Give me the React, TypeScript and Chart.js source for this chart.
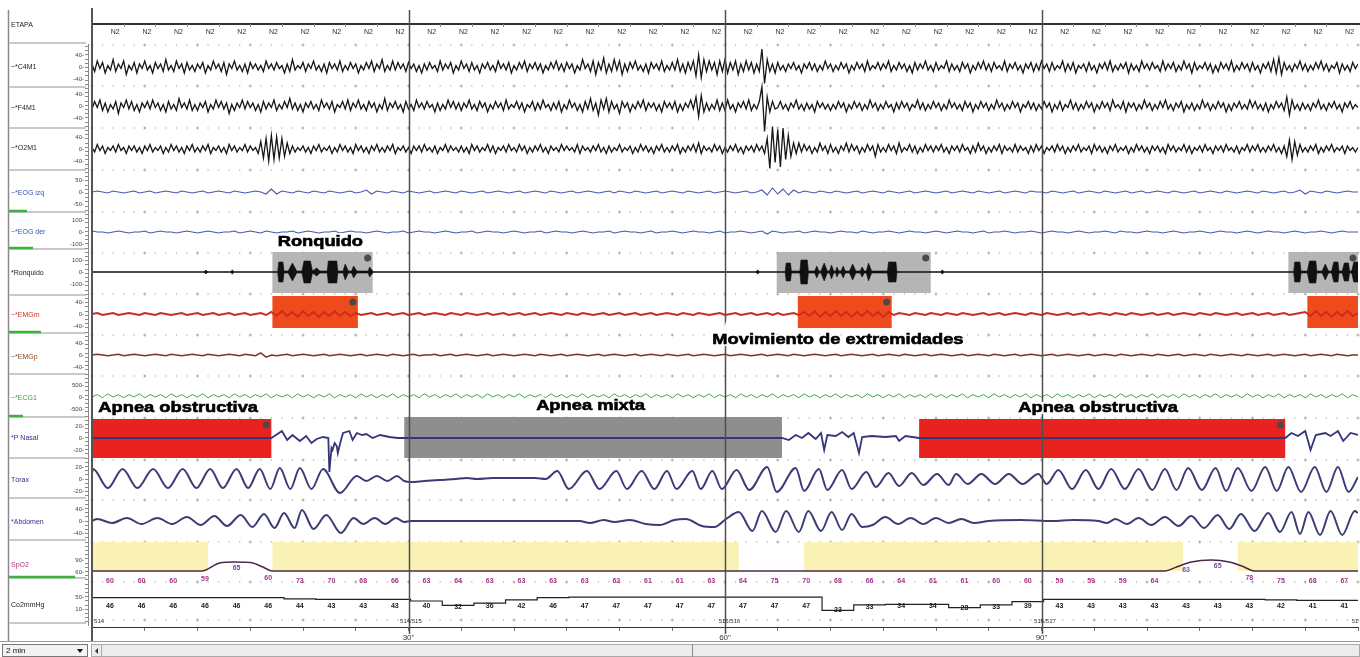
import React, { useEffect, useRef } from "react";
import { Chart, registerables } from "chart.js";

Chart.register(...registerables);

const FONT = '"Liberation Sans", Arial, sans-serif';
const WIDTH = 1360;
const HEIGHT = 657;
const PLOT_LEFT = 92;
const AXIS_HEIGHT = 30;

// ---------------- time axis ----------------
const timeMarks = [30, 60, 90];
const epochNames = ["514", "514/515", "515/516", "516/517", "51"];
const epochNameTimes = [0.2, 29.2, 59.4, 89.3, 119.4];

// ---------------- sleep stage (one label per 3 s) ----------------
const stageLabels = [
  "N2", "N2", "N2", "N2", "N2", "N2", "N2", "N2", "N2", "N2",
  "N2", "N2", "N2", "N2", "N2", "N2", "N2", "N2", "N2", "N2",
  "N2", "N2", "N2", "N2", "N2", "N2", "N2", "N2", "N2", "N2",
  "N2", "N2", "N2", "N2", "N2", "N2", "N2", "N2", "N2", "N2",
];
const stageStart = 2.2;
const stageStep = 3;

// ---------------- numeric read-outs (one per 3 s) ----------------
const readoutStart = 1.7;
const readoutStep = 3;
const spo2Values = [
  60, 60, 60, 59, 65, 60, 73, 70, 68, 66,
  63, 64, 63, 63, 63, 63, 62, 61, 61, 63,
  64, 75, 70, 68, 66, 64, 61, 61, 60, 60,
  59, 59, 59, 64, 63, 65, 78, 75, 68, 67,
];
const co2Values = [
  46, 46, 46, 46, 46, 46, 44, 43, 43, 43,
  40, 32, 36, 42, 46, 47, 47, 47, 47, 47,
  47, 47, 47, 23, 33, 34, 34, 28, 33, 39,
  43, 43, 43, 43, 43, 43, 43, 42, 41, 41,
];

// ---------------- scored events [start s, end s] ----------------
const snoreEvents = [[17.1, 26.6], [64.9, 79.5], [113.4, 120]];
const limbEvents = [[17.1, 25.2], [66.9, 75.8], [115.2, 120]];
const obstructiveApneas = [[0, 17.0], [78.4, 113.1]];
const mixedApneas = [[29.6, 65.4]];
const spo2Bands = [[0, 11.0], [17.1, 61.3], [67.5, 103.4], [108.6, 120]];

const annotationTexts = ["Ronquido", "Movimiento de extremidades", "Apnea obstructiva", "Apnea mixta", "Apnea obstructiva"];
const annotationTimes = [17.6, 58.8, 0.6, 42.1, 87.8];

// ---------------- EEG (0.25 s samples) ----------------
const eegStep = 0.25;
const c4m1 = [
  2,-3,4,-1,3,-4,1,-2,5,-3,2,-1,4,-5,1,-2,3,-4,2,-1,
  4,-2,1,-4,3,-1,2,-3,5,-2,1,-3,4,-1,2,-4,3,-2,1,-3,
  2,-1,3,-4,1,-2,4,-1,2,-3,3,-5,2,-1,4,-2,1,-3,2,-4,
  3,-1,2,-2,1,-3,4,-1,2,-2,3,-1,1,-4,2,-3,5,-2,1,-1,
  3,-3,2,-1,4,-2,1,-3,2,-4,3,-1,2,-2,4,-3,1,-2,3,-1,
  2,-4,1,-2,3,-1,4,-3,2,-1,5,-3,1,-2,4,-2,3,-1,2,-3,
  3,-1,2,-3,1,-4,2,-2,3,-1,1,-3,4,-2,2,-1,3,-4,1,-2,
  4,-1,2,-3,3,-2,1,-4,2,-1,3,-2,1,-3,4,-1,2,-2,3,-4,
  1,-2,3,-1,4,-3,2,-1,3,-2,2,-4,1,-2,3,-1,4,-2,2,-3,
  3,-1,2,-4,1,-2,5,-1,2,-3,4,-5,3,-2,6,-4,2,-3,5,-2,
  4,-5,2,-3,3,-1,4,-2,1,-3,2,-4,3,-1,2,-2,4,-3,1,-2,
  3,-2,5,-3,2,-4,3,-2,4,-6,8,-7,5,-3,4,-2,3,-5,4,-3,
  5,-4,3,-2,4,-5,2,-3,4,-2,3,-4,2,-3,12,-11,5,-3,2,-4,
  3,-2,1,-3,2,-1,3,-2,1,-4,2,-1,3,-2,2,-3,1,-2,4,-1,
  2,-3,1,-2,3,-1,2,-4,1,-2,3,-1,2,-3,4,-2,1,-1,3,-2,
  2,-1,4,-3,1,-2,3,-1,2,-3,1,-4,3,-2,2,-1,4,-2,1,-3,
  3,-2,1,-1,4,-3,2,-2,1,-3,3,-1,2,-4,1,-2,3,-1,4,-2,
  2,-3,3,-1,1,-2,4,-3,2,-1,3,-2,1,-4,2,-1,3,-3,2,-2,
  4,-1,2,-3,3,-2,1,-1,4,-3,2,-2,3,-4,1,-1,2,-3,3,-2,
  1,-4,2,-1,3,-2,4,-3,1,-2,2,-1,3,-4,2,-2,1,-3,4,-1,
  2,-2,3,-1,1,-3,4,-2,2,-1,3,-3,1,-2,4,-1,2,-4,3,-2,
  1,-1,3,-2,2,-4,1,-3,3,-1,2,-2,4,-3,1,-2,3,-1,2,-3,
  3,-2,1,-4,2,-1,3,-3,5,-4,6,-5,3,-2,1,-3,2,-1,4,-2,
  2,-3,1,-2,3,-1,4,-2,2,-3,1,-1,3,-4,2,-2,1,-3,3,-1,
  2,
];
const f4m1 = [
  -2,3,-1,4,-3,2,-4,1,-2,3,-5,2,-1,4,-2,3,-3,1,-4,2,
  -1,3,-2,4,-1,2,-3,1,-4,3,-2,1,-3,5,-1,2,-2,4,-3,1,
  -3,2,-1,3,-4,1,-2,4,-1,3,-2,2,-5,1,-3,2,-1,4,-2,3,
  -1,2,-3,1,-4,3,-2,2,-1,4,-3,1,-2,3,-1,5,-2,2,-3,1,
  -4,2,-1,3,-2,1,-3,4,-1,2,-2,3,-4,1,-1,3,-2,4,-3,2,
  -1,4,-2,1,-3,3,-1,2,-4,1,-2,5,-3,2,-1,3,-2,1,-4,3,
  -2,1,-3,4,-1,2,-2,3,-1,1,-4,2,-3,1,-2,4,-1,3,-2,2,
  -3,2,-1,4,-2,1,-3,3,-1,2,-4,1,-2,3,-1,2,-3,4,-2,1,
  -1,3,-2,2,-4,1,-1,3,-3,2,-2,4,-1,1,-3,2,-2,3,-4,1,
  -2,4,-1,2,-3,1,-4,3,-2,5,-3,2,-6,4,-2,5,-4,3,-2,1,
  -5,3,-1,2,-4,1,-2,3,-1,4,-3,2,-1,2,-3,1,-4,3,-1,2,
  -2,3,-4,1,-3,2,-1,4,-2,6,-7,7,-4,2,-3,1,-2,4,-3,2,
  -3,4,-2,1,-4,2,-1,3,-2,4,-3,1,-2,3,13,-17,6,-4,3,-2,
  -1,3,-2,1,-3,2,-1,4,-2,1,-3,2,-2,1,-4,3,-1,2,-2,1,
  -3,1,-2,3,-1,2,-4,1,-2,3,-1,2,-3,1,-2,4,-1,2,-3,1,
  -2,3,-1,1,-4,2,-2,3,-1,2,-3,1,-1,4,-2,2,-3,1,-2,3,
  -1,2,-3,1,-2,4,-1,2,-2,1,-3,3,-1,2,-4,1,-2,3,-1,2,
  -3,1,-2,4,-1,2,-3,1,-2,3,-1,2,-4,1,-1,3,-2,2,-3,1,
  -2,3,-1,2,-4,1,-2,3,-3,1,-1,4,-2,2,-3,1,-2,3,-1,2,
  -4,1,-2,3,-1,2,-3,4,-1,1,-2,3,-4,2,-1,2,-3,1,-2,4,
  -1,2,-3,1,-2,3,-1,4,-2,1,-3,2,-1,3,-4,1,-2,2,-3,1,
  -2,4,-1,2,-3,1,-2,3,-1,2,-4,1,-3,2,-1,3,-2,1,-2,4,
  -1,3,-2,1,-3,2,-4,1,-2,3,-1,2,-3,6,-6,4,-2,1,-3,2,
  -2,1,-3,2,-1,4,-2,1,-3,2,-1,3,-2,1,-4,2,-1,3,-2,1,
  -1,
];
const o2m1 = [
  1,-2,3,-1,2,-3,1,-1,2,-2,3,-1,1,-3,2,-1,2,-2,1,-3,
  2,-1,3,-2,1,-1,2,-3,1,-2,3,-1,2,-2,1,-3,2,-1,3,-2,
  1,-2,2,-1,3,-3,1,-1,2,-2,1,-3,3,-1,2,-2,1,-1,3,-2,
  2,-1,1,-3,5,-6,7,-8,9,-7,8,-6,7,-5,4,-3,2,-2,1,-1,
  2,-2,1,-3,2,-1,3,-2,1,-1,2,-3,1,-2,3,-1,2,-2,1,-3,
  3,-1,2,-2,1,-3,2,-1,3,-2,1,-2,2,-1,3,-3,1,-1,2,-2,
  1,-3,2,-1,2,-2,3,-1,1,-2,2,-3,1,-1,3,-2,2,-1,1,-2,
  2,-2,1,-3,3,-1,2,-2,1,-1,3,-2,2,-3,1,-1,2,-2,3,-1,
  1,-2,3,-1,2,-3,1,-2,2,-1,3,-2,1,-3,2,-1,1,-2,3,-1,
  2,-1,1,-2,3,-3,2,-1,1,-2,2,-1,3,-2,1,-3,2,-2,1,-1,
  3,-2,1,-1,2,-3,1,-2,3,-1,2,-2,1,-3,2,-1,3,-2,1,-2,
  2,-1,3,-3,1,-2,2,-1,3,-2,4,-3,2,-1,1,-2,3,-1,2,-3,
  1,-2,2,-1,3,-2,1,-3,2,-1,2,-2,3,-1,2,-3,7,-13,15,-9,
  13,-12,14,-7,9,-5,4,-3,4,-2,3,-1,2,-3,1,-2,4,-1,2,-3,
  3,-2,1,-3,2,-1,4,-2,3,-1,2,-3,1,-2,3,-1,2,-5,3,-2,
  1,-2,3,-1,2,-3,4,-2,1,-1,3,-2,2,-3,1,-2,3,-1,2,-2,
  2,-1,3,-2,1,-3,2,-1,2,-2,3,-1,1,-3,2,-2,4,-1,2,-3,
  1,-2,2,-1,3,-3,2,-1,1,-2,3,-2,2,-1,1,-3,2,-2,3,-1,
  2,-3,1,-1,2,-2,3,-1,2,-3,1,-2,2,-1,3,-2,1,-1,2,-3,
  3,-1,2,-2,1,-3,2,-1,3,-2,1,-1,2,-3,1,-2,3,-1,2,-2,
  1,-3,2,-1,2,-2,1,-3,3,-1,2,-2,1,-1,3,-2,2,-3,1,-1,
  2,-2,3,-1,1,-3,2,-1,2,-2,3,-1,1,-2,2,-3,1,-1,3,-2,
  2,-1,3,-2,1,-2,2,-1,3,-2,1,-3,2,-5,6,-7,5,-4,3,-2,
  1,-2,2,-1,3,-3,1,-2,2,-1,3,-2,1,-1,2,-3,2,-1,1,-2,
  1,
];

// ---------------- EOG / EMG / ECG (0.5 s samples) ----------------
const slowStep = 0.5;
const eogLeft = [
  0,1,0,-1,1,0,-1,0,1,-1,0,1,-1,0,1,0,-1,1,0,-1,
  0,1,-1,0,1,0,-1,1,0,-1,0,1,0,-2,3,-2,1,0,-1,1,
  0,-1,1,0,-1,1,0,-1,0,1,-1,0,2,-2,1,0,-1,1,0,-1,
  1,0,-1,0,1,-1,0,1,0,-1,1,0,-1,0,1,-1,0,1,0,-1,
  0,1,-1,0,1,0,-1,1,0,-1,0,1,-1,0,1,0,-1,0,1,-1,
  1,0,-1,1,0,-1,0,1,-1,0,1,0,-1,1,0,-1,0,1,-1,0,
  1,0,-1,0,1,-1,0,2,-3,4,-2,3,-3,2,-1,1,0,-1,1,0,
  -1,1,0,-1,0,1,-1,0,1,0,-1,1,0,-1,0,1,-1,0,1,0,
  -1,0,1,-1,0,1,0,-1,1,0,-1,0,1,-1,0,1,0,-1,1,0,
  0,-1,1,0,-1,0,1,-1,0,1,0,-1,1,0,-1,0,1,-1,0,1,
  -1,0,1,0,-1,1,0,-1,0,1,-1,0,1,0,-1,1,0,-1,0,1,
  0,-1,1,0,-1,0,1,-1,0,2,-2,1,0,-1,1,0,-1,0,1,0,
  0,
];
const eogRight = [
  1,0,0,-1,0,1,0,-1,0,0,1,-1,0,1,0,0,-1,0,1,0,
  -1,0,1,0,-1,0,0,1,-1,0,1,0,-1,1,0,-1,0,0,1,-1,
  0,1,0,-1,0,0,1,-1,0,1,0,0,-1,0,1,0,-1,0,0,1,
  -1,0,1,0,0,-1,0,1,0,-1,0,0,1,-1,0,1,0,0,-1,0,
  1,0,-1,0,0,1,-1,0,1,0,0,-1,0,1,0,-1,0,0,1,-1,
  0,1,0,0,-1,0,1,-1,0,0,1,0,-1,0,1,0,0,-1,0,1,
  -1,0,0,1,0,-1,0,1,-2,1,0,-1,0,0,1,-1,0,1,0,0,
  -1,0,1,0,0,-1,1,0,-1,0,0,1,0,-1,0,1,0,0,-1,0,
  1,0,-1,0,1,0,0,-1,0,1,-1,0,0,1,0,-1,0,0,1,0,
  -1,0,1,0,0,-1,0,1,0,-1,0,0,1,0,-1,1,0,0,-1,0,
  1,0,0,-1,0,1,0,-1,0,0,1,0,-1,0,1,0,0,-1,0,1,
  0,-1,0,1,0,0,-1,0,1,0,-1,0,0,1,0,-1,0,1,0,0,
  0,
];
const emgChin = [
  0,1,-1,0,1,-1,0,1,0,-1,1,0,-1,1,0,-1,0,1,-1,0,
  1,-1,0,1,-1,0,1,-1,0,1,-1,0,1,-1,2,-2,3,-2,2,-3,
  3,-2,2,-3,2,-2,3,-2,2,-2,1,-1,0,1,-1,0,1,-1,0,1,
  -1,0,1,-1,0,1,0,-1,1,0,-1,1,0,-1,0,1,-1,0,1,-1,
  0,1,-1,0,1,-1,0,1,0,-1,1,0,-1,1,0,-1,0,1,-1,0,
  1,-1,0,1,-1,0,1,-1,0,1,0,-1,1,0,-1,1,0,-1,0,1,
  -1,0,1,-1,0,1,-1,0,1,-1,1,-1,0,1,-1,2,-2,3,-3,2,
  -2,3,-2,2,-3,2,-2,3,-2,2,-3,2,-1,1,0,-1,1,0,-1,1,
  0,-1,1,0,-1,1,0,-1,0,1,-1,0,1,-1,0,1,0,-1,1,0,
  -1,1,0,-1,0,1,-1,0,1,-1,0,1,0,-1,1,0,-1,1,0,-1,
  0,1,-1,0,1,-1,0,1,0,-1,1,0,-1,1,0,-1,0,1,-1,0,
  1,-1,0,1,-1,0,1,-1,0,1,2,-2,3,-2,2,-3,2,-2,3,-2,
  1,
];
const emgLeg = [
  0,1,0,-1,0,1,-1,0,1,0,-1,0,1,0,-1,1,0,-1,0,1,
  0,-1,1,0,-1,0,1,0,-1,1,0,-1,3,-3,0,-1,0,1,-1,0,
  1,0,-1,0,1,-1,0,1,0,-1,0,1,-1,0,1,0,-1,1,0,-1,
  0,1,-1,0,0,1,-1,0,1,-1,0,1,0,-1,0,1,-1,0,1,0,
  -1,0,1,0,-1,1,0,-1,0,1,-1,0,1,0,-1,0,1,-1,0,1,
  0,-1,0,1,-1,0,1,0,-1,1,0,-1,0,1,-1,0,1,0,-1,0,
  1,-1,0,1,0,-1,0,1,-1,0,1,0,-1,1,0,-1,0,1,0,-1,
  0,1,-1,0,1,0,-1,0,1,-1,0,1,0,-1,1,0,-1,0,1,-1,
  0,1,0,-1,0,1,-1,0,1,0,-1,1,0,-1,0,1,-1,0,1,0,
  -1,0,1,-1,0,1,0,-1,0,1,-1,0,1,0,-1,1,0,-1,0,1,
  0,-1,1,0,-1,0,1,-1,0,1,0,-1,1,0,-1,0,1,0,-1,1,
  0,-1,0,1,-1,0,1,0,-1,0,1,-1,0,1,0,-1,1,0,-1,0,
  0,
];
const ecg = [
  0,3,-1,4,0,3,-1,3,0,4,-1,3,0,3,-1,4,0,3,-1,3,
  0,4,-1,3,0,3,-1,4,0,3,-1,3,0,4,-1,3,0,3,-1,4,
  0,3,-1,3,0,4,-1,3,0,3,-1,4,0,3,-1,3,0,4,-1,3,
  0,3,-1,4,0,3,-1,3,0,4,-1,3,0,3,-1,4,0,3,-1,3,
  0,4,-1,3,0,3,-1,4,0,3,-1,3,0,4,-1,3,0,3,-1,4,
  0,3,-1,3,0,4,-1,3,0,3,-1,4,0,3,-1,3,0,4,-1,3,
  0,3,-1,4,0,3,-1,3,0,4,-1,3,0,3,-1,4,0,3,-1,3,
  0,4,-1,3,0,3,-1,4,0,3,-1,3,0,4,-1,3,0,3,-1,4,
  0,3,-1,3,0,4,-1,3,0,3,-1,4,0,3,-1,3,0,4,-1,3,
  0,3,-1,4,0,3,-1,3,0,4,-1,3,0,3,-1,4,0,3,-1,3,
  0,4,-1,3,0,3,-1,4,0,3,-1,3,0,4,-1,3,0,3,-1,4,
  0,3,-1,3,0,4,-1,3,0,3,-1,4,0,3,-1,3,0,4,-1,3,
  0,
];

// ---------------- snore envelope [t, amplitude] ----------------
const snoreEnvelope = [
  [0,0],[10.6,0],[10.8,2],[11.0,0],[13.1,0],[13.3,2],[13.5,0],
  [17.6,0],[17.7,10],[18.1,10],[18.2,1],[18.6,1],[19.0,9],[19.4,1],[19.9,1],[20.1,11],[20.7,11],[20.9,1],
  [21.3,4],[21.6,1],[22.3,1],[22.4,11],[23.2,11],[23.3,1],[23.8,1],[24.0,8],[24.3,1],[24.6,1],[24.8,6],
  [25.1,1],[26.2,1],[26.3,5],[26.6,1],[26.7,0],
  [62.9,0],[63.1,2],[63.3,0],
  [65.7,0],[65.8,9],[66.2,9],[66.3,1],[67.1,1],[67.2,12],[67.8,12],[67.9,1],[68.5,1],[68.7,6],[68.9,1],
  [69.1,1],[69.4,9],[69.7,1],[69.9,1],[70.1,7],[70.3,1],[70.5,1],[70.6,5],[70.8,1],[71.0,1],[71.2,6],
  [71.4,1],[71.8,1],[72.1,8],[72.4,1],[72.8,1],[73.0,5],[73.2,1],[73.4,1],[73.6,9],[73.9,1],[75.4,1],
  [75.5,10],[76.2,10],[76.3,0],
  [80.4,0],[80.6,2],[80.8,0],
  [113.9,0],[114.0,10],[114.5,10],[114.6,1],[115.2,1],[115.4,11],[116.0,11],[116.1,1],[116.6,1],[116.9,8],
  [117.2,1],[117.5,1],[117.7,10],[118.1,10],[118.2,1],[118.5,1],[118.7,9],[119.1,9],[119.2,1],[119.4,1],
  [119.6,10],[120,10],
];

// ---------------- respiration [t, value] ----------------
const nasalFlow = [
  [0,0],[17.0,0],[17.3,2],[18.0,7],[18.5,-2],[19.0,3],[19.7,-3],[20.3,2],[20.8,-5],[21.3,-1],[21.9,1],
  [22.4,0],[22.5,-34],[22.7,-10],[22.8,-12],[23.0,-5],[23.2,-8],[23.3,-15],[23.6,-2],[23.8,5],[24.4,7],
  [24.7,-2],[25.1,5],[25.6,3],[26.0,4],[26.6,0],[27.3,3],[28.2,1],[29.0,0],[29.6,0],
  [65.4,0],[66.05,-2],[66.7,3],[67.3,0],[67.9,5],[68.6,-1],[69.1,5],[69.4,-12],[69.7,3],[70.5,2],
  [71.1,6],[71.7,1],[72.2,5],[72.7,-15],[73.0,1],[73.9,2],[75.2,1],[76.2,2],[76.5,-3],[77.1,2],[78.4,0],
  [113.1,0],[113.7,5],[114.3,2],[115.0,7],[115.5,-12],[116.0,3],[116.9,5],[117.4,2],[118.1,7],[118.6,-3],
  [119.3,5],[120,3],
];
const thorax = [
  [0,6],[0.1,10],[1.5,-9],[2.9,10],[4.3,-9],[5.8,10],[7.2,-9],[8.6,10],[9.9,-9],[11.2,10],[12.4,-9],
  [13.7,10],[14.8,-9],[15.9,10],[16.9,-10],[17.8,11],[18.8,-10],[19.7,11],[20.8,-10],[21.9,10],[23.5,-14],
  [25.1,3],[26.0,-2],[27.0,3],[28.0,-2],[28.9,3],[29.6,-2],[30.2,-3],[31.5,-2],[33,-1],[34.5,0],[35.5,1],
  [36.5,0],[38,1],[40,1],[42,1],[43.0,0],
  [44.1,8],[45.2,-10],[46.9,8],[48.1,-10],[49.7,8],[50.7,-10],[52.1,8],[53.3,-10],[54.5,8],[55.4,-10],
  [56.9,8],[57.7,-10],[58.8,8],[59.7,-10],[61.1,9],[62.3,-11],[64.0,12],[64.9,-13],[66.7,11],[67.5,-12],
  [68.9,10],[69.7,-11],[71.1,9],[72.0,-10],[73.4,7],[74.3,-8],[75.5,6],[76.5,-7],[77.7,6],[78.8,-6],
  [80.1,5],[81.2,-6],[81.9,5],[83.0,-5],[84.3,5],[85.6,-5],[86.9,5],[88.2,-5],[89.7,5],[90.5,-5],
  [91.6,9],[92.9,-10],[94.2,9],[95.4,-10],[96.6,10],[97.9,-10],[99.2,10],[100.5,-11],[101.7,10],[102.8,-11],
  [103.9,11],[105.2,-11],[106.5,11],[107.5,-12],[108.6,11],[109.9,-12],[111.2,12],[112.3,-12],[113.4,12],
  [114.6,-13],[115.9,12],[117.0,-13],[118.1,12],[119.1,-13],[120,2],
];
const abdomen = [
  [0,0],[0.5,2],[1.9,-2],[3.3,3],[4.7,-3],[6.2,3],[7.6,-3],[9.0,4],[10.3,-4],[11.6,5],[12.8,-5],[14.1,6],
  [15.2,-6],[16.3,7],[17.3,-7],[18.2,8],[19.2,-7],[19.9,11],[21.0,-8],[22.2,6],[23.6,-12],[24.8,3],
  [25.7,-3],[26.8,3],[27.8,-3],[28.8,3],[29.6,-1],[30.2,0],[34,0],[38,0],[42,0],
  [46.2,0],[47.2,-2],[48.5,1],[49.5,-1],[51.0,1],[52.5,-3],[53.8,-4],[55.2,1],[56.3,2],[57.8,-5],[59.0,-6],
  [60.1,2],[61.3,9],[62.6,-10],[63.5,10],[64.8,-11],[65.8,10],[67.0,-11],[67.9,10],[69.1,-10],[70.1,9],
  [71.1,-9],[72.0,7],[73.0,-6],[74.0,-4],[75.2,4],[76.4,-3],[77.6,3],[78.8,-3],[80.0,3],[81.2,-2],[82.4,2],
  [83.6,-2],[85,0],[88,1],[91,0],[93,1],[95.4,0],[96.2,-2],[97.0,2],[98.1,-3],[99.2,3],[100.4,-4],[101.7,4],
  [103.0,-5],[104.2,5],[105.4,-7],[106.7,6],[107.8,-8],[108.9,7],[110.2,-10],[111.5,8],[112.6,-11],
  [113.7,9],[114.5,-13],[115.3,9],[116.4,-14],[117.4,10],[118.5,-14],[119.7,10],[120,8],
];
const spo2Curve = [
  [0,0],[10.4,0],[12.1,8],[13.5,9],[15.0,8.5],[16.2,4],[17.1,0],
  [101.7,0],[102.8,4],[104.2,9],[106.1,11],[107.8,9],[109.2,4],[110.2,0],[120,0],
];

// ---------------- layout (pixel rows of the montage) ----------------
const lane = {
  stage: 24, c4: 67, f4: 106, o2: 149, eogL: 192, eogR: 232, snore: 272, emgm: 314,
  emgp: 355, ecg: 397, flow: 438, thorax: 479, abdomen: 521, spo2: 571, co2: 601,
};
const channelNames = [
  "ETAPA", "~*C4M1", "~*F4M1", "~*O2M1", "~*EOG izq", "~*EOG der", "*Ronquido", "~*EMGm",
  "~*EMGp", "~*ECG1", "*P Nasal", "Tórax", "*Abdomen", "SpO2", "Co2mmHg",
];
const channelColors = [
  "#222", "#222", "#222", "#222", "#3b52b4", "#3b52b4", "#222", "#d0301e",
  "#8a4a22", "#3a9a3a", "#2e2e8e", "#2e2e8e", "#2e2e8e", "#b0307e", "#222",
];
const channelLabelY = [25, 67, 108, 148, 193, 232, 273, 315, 357, 398, 438, 480, 522, 565, 605];
const panelSeparators = [43, 87, 128, 170, 212, 249, 295, 333, 374, 417, 458, 498, 540, 578, 623];
const dottedRows = [45, 86, 128, 170, 212, 253, 294, 335, 376, 418, 460, 500, 542, 582, 620];
const levelBars = [[212, 18], [249, 24], [333, 32], [417, 14], [578, 66]];
const scaleTexts = [
  [67, ["40", "0", "-40"]], [106, ["40", "0", "-40"]], [149, ["40", "0", "-40"]],
  [192, ["50", "0", "-50"]], [232, ["100", "0", "-100"]], [272, ["100", "0", "-100"]],
  [314, ["40", "0", "-40"]], [355, ["40", "0", "-40"]], [397, ["500", "0", "-500"]],
  [438, ["20", "0", "-20"]], [479, ["20", "0", "-20"]], [521, ["40", "0", "-40"]],
  [566, ["90", "60"]], [603, ["50", "10"]],
];
const annotationY = [242, 340, 408, 406, 408];

// ---------------- helpers ----------------
type Pt = { x: number; y: number };
const sampled = (vals: number[], step: number, center: number, gain = 1): Pt[] =>
  vals.map((v, i) => ({ x: i * step, y: center - v * gain }));
const paired = (pairs: number[][], center: number, gain = 1): Pt[] =>
  pairs.map(([t, v]) => ({ x: t, y: center - v * gain }));
const co2Y = (v: number) => lane.co2 + (40 - v) * 0.55;
const curveAt = (pairs: number[][], t: number) => {
  for (let i = 1; i < pairs.length; i++) {
    if (t <= pairs[i][0]) {
      const [t0, v0] = pairs[i - 1];
      const [t1, v1] = pairs[i];
      return v0 + ((v1 - v0) * (t - t0)) / (t1 - t0 || 1);
    }
  }
  return pairs[pairs.length - 1][1];
};

function mkLine(label: string, data: Pt[], color: string, width: number, extra: any = {}) {
  return {
    label, data, borderColor: color, backgroundColor: color, borderWidth: width,
    pointRadius: 0, fill: false, tension: 0, ...extra,
  };
}

function seg(ctx: CanvasRenderingContext2D, x0: number, y0: number, x1: number, y1: number) {
  ctx.beginPath();
  ctx.moveTo(x0, y0);
  ctx.lineTo(x1, y1);
  ctx.stroke();
}

const psgPlugin = {
  id: "psgMontage",
  beforeDatasetsDraw(chart: any) {
    const ctx: CanvasRenderingContext2D = chart.ctx;
    const xs = chart.scales.x;
    const X = (t: number) => xs.getPixelForValue(t);
    ctx.save();

    // left channel panel
    ctx.strokeStyle = "#8a8a8a";
    ctx.lineWidth = 1.5;
    seg(ctx, 8.5, 10, 8.5, 641);
    ctx.strokeStyle = "#c9c9c9";
    ctx.lineWidth = 2;
    panelSeparators.forEach((y) => seg(ctx, 9, y, 86, y));
    ctx.strokeStyle = "#3cb43c";
    ctx.lineWidth = 2.5;
    levelBars.forEach(([y, len]) => seg(ctx, 9, y - 1, 9 + len, y - 1));

    ctx.textBaseline = "middle";
    ctx.textAlign = "left";
    ctx.font = `7px ${FONT}`;
    channelNames.forEach((name, i) => {
      ctx.fillStyle = channelColors[i];
      ctx.fillText(name, 11, channelLabelY[i]);
    });

    // ruler with scale labels
    ctx.strokeStyle = "#888";
    ctx.lineWidth = 1;
    seg(ctx, 88.5, 44, 88.5, 626);
    for (let y = 46; y < 625; y += 4.2) seg(ctx, 85, Math.round(y) + 0.5, 88.5, Math.round(y) + 0.5);
    ctx.font = `6px ${FONT}`;
    ctx.textAlign = "right";
    ctx.fillStyle = "#444";
    scaleTexts.forEach(([cy, labels]: any) => {
      const n = labels.length;
      labels.forEach((s: string, k: number) => {
        const y = cy + (k - (n - 1) / 2) * 12;
        ctx.fillText(s + "-", 84, y);
      });
    });

    // stage row
    ctx.strokeStyle = "#333";
    ctx.lineWidth = 2;
    seg(ctx, PLOT_LEFT, lane.stage, WIDTH, lane.stage);
    ctx.font = `7px ${FONT}`;
    ctx.textAlign = "center";
    ctx.fillStyle = "#333";
    stageLabels.forEach((s, k) => {
      const x = X(stageStart + k * stageStep);
      ctx.fillText(s, x, lane.stage + 8);
      ctx.strokeStyle = "#888";
      ctx.lineWidth = 1;
      seg(ctx, Math.round(X(k * stageStep)) + 0.5, lane.stage, Math.round(X(k * stageStep)) + 0.5, lane.stage + 3);
    });

    // dotted channel separators (1 s dots)
    ctx.fillStyle = "#a8a8a8";
    dottedRows.forEach((y) => {
      for (let s = 0; s <= 120; s++) {
        const x = X(s);
        if (s % 5 === 0) {
          ctx.fillRect(x - 1.5, y - 0.5, 3, 1);
          ctx.fillRect(x - 0.5, y - 1.5, 1, 3);
        } else {
          ctx.fillRect(x - 0.6, y - 0.6, 1.2, 1.2);
        }
      }
    });

    // SpO2 evaluation bands
    ctx.fillStyle = "#faf1b4";
    spo2Bands.forEach(([a, b]) => ctx.fillRect(X(a), 542, X(b) - X(a), lane.spo2 - 542));

    // scored events
    const box = (evts: number[][], top: number, bottom: number, color: string) => {
      ctx.fillStyle = color;
      evts.forEach(([a, b]) => ctx.fillRect(X(a), top, X(b) - X(a), bottom - top));
    };
    box(snoreEvents, 252, 293, "#b5b5b5");
    box(limbEvents, 296, 328, "#ef4a1d");
    box(obstructiveApneas, 419, 458, "#e8221e");
    box(mixedApneas, 417, 458, "#8e8e8e");
    ctx.restore();
  },
  afterDatasetsDraw(chart: any) {
    const ctx: CanvasRenderingContext2D = chart.ctx;
    const xs = chart.scales.x;
    const X = (t: number) => xs.getPixelForValue(t);
    ctx.save();

    // epoch lines
    ctx.strokeStyle = "#505050";
    ctx.lineWidth = 1.5;
    timeMarks.forEach((t) => seg(ctx, Math.round(X(t)) + 0.5, 10, Math.round(X(t)) + 0.5, 634));
    ctx.strokeStyle = "#555";
    ctx.lineWidth = 2;
    seg(ctx, PLOT_LEFT, 8, PLOT_LEFT, 641);

    // corner markers of scored events
    const dots = (evts: number[][], top: number, skipOpen: boolean) => {
      evts.forEach(([a, b]) => {
        if (skipOpen && b >= 120) return;
        ctx.beginPath();
        ctx.arc(X(b) - 5, top + 6, 3.5, 0, Math.PI * 2);
        ctx.fillStyle = "#4a4a4a";
        ctx.fill();
      });
    };
    dots(snoreEvents, 252, false);
    dots(limbEvents, 296, true);
    dots(obstructiveApneas, 419, false);

    // event annotations
    ctx.font = `bold 15px ${FONT}`;
    ctx.textBaseline = "middle";
    ctx.textAlign = "left";
    annotationTexts.forEach((txt, i) => {
      ctx.save();
      ctx.translate(X(annotationTimes[i]), annotationY[i]);
      ctx.scale(1.22, 1);
      ctx.lineWidth = 4;
      ctx.strokeStyle = "#ffffff";
      ctx.strokeText(txt, 0, 0);
      ctx.fillStyle = "#000";
      ctx.fillText(txt, 0, 0);
      ctx.lineWidth = 0.6;
      ctx.strokeStyle = "#000";
      ctx.strokeText(txt, 0, 0);
      ctx.restore();
    });

    // numeric read-outs
    ctx.textAlign = "center";
    ctx.font = `bold 7px ${FONT}`;
    spo2Values.forEach((v, k) => {
      const t = readoutStart + k * readoutStep;
      const off = curveAt(spo2Curve, t);
      ctx.fillStyle = off > 3 ? "#7a46a8" : "#a3358a";
      ctx.fillText(String(v), X(t), lane.spo2 + 10 - off * 1.45);
    });
    ctx.fillStyle = "#222";
    co2Values.forEach((v, k) => {
      const t = readoutStart + k * readoutStep;
      const y = 606 + Math.max(0, co2Y(v) - 604) * 0.7;
      ctx.fillText(String(v), X(t), y);
    });

    // epoch numbers
    ctx.font = `6px ${FONT}`;
    ctx.textAlign = "left";
    ctx.fillStyle = "#333";
    epochNames.forEach((s, i) => ctx.fillText(s, X(epochNameTimes[i]), 621));

    // bottom strip
    ctx.strokeStyle = "#9a9a9a";
    ctx.lineWidth = 1;
    seg(ctx, 0, 641.5, WIDTH, 641.5);
    ctx.fillStyle = "#f3f3f3";
    ctx.fillRect(2, 644, 86, 13);
    ctx.strokeStyle = "#777";
    ctx.strokeRect(2.5, 644.5, 85, 12);
    ctx.fillStyle = "#111";
    ctx.font = `8px ${FONT}`;
    ctx.textBaseline = "middle";
    ctx.fillText("2 min", 6, 651);
    ctx.beginPath();
    ctx.moveTo(77, 649);
    ctx.lineTo(83, 649);
    ctx.lineTo(80, 653);
    ctx.closePath();
    ctx.fill();
    ctx.fillStyle = "#ececec";
    ctx.fillRect(91, 644, WIDTH - 91, 13);
    ctx.strokeStyle = "#aaa";
    ctx.strokeRect(91.5, 644.5, WIDTH - 92, 12);
    ctx.strokeRect(91.5, 644.5, 10, 12);
    ctx.fillStyle = "#333";
    ctx.beginPath();
    ctx.moveTo(98, 648);
    ctx.lineTo(98, 654);
    ctx.lineTo(95, 651);
    ctx.closePath();
    ctx.fill();
    ctx.strokeStyle = "#888";
    seg(ctx, 692.5, 644, 692.5, 657);
    ctx.restore();
  },
};

export default function App() {
  const ref = useRef<HTMLCanvasElement | null>(null);
  useEffect(() => {
    const canvas = ref.current;
    if (!canvas) return;
    const co2Points: Pt[] = [
      { x: 0, y: co2Y(co2Values[0]) },
      ...co2Values.map((v, k) => ({ x: readoutStart + k * readoutStep, y: co2Y(v) })),
      { x: 120, y: co2Y(co2Values[co2Values.length - 1]) },
    ];
    const eegGain = 1.5;
    const datasets: any[] = [
      mkLine("C4M1", sampled(c4m1, eegStep, lane.c4, eegGain), "#161616", 1.3),
      mkLine("F4M1", sampled(f4m1, eegStep, lane.f4, eegGain), "#161616", 1.3),
      mkLine("O2M1", sampled(o2m1, eegStep, lane.o2, eegGain), "#161616", 1.3),
      mkLine("EOG izq", sampled(eogLeft, slowStep, lane.eogL), "#4658b0", 1.1),
      mkLine("EOG der", sampled(eogRight, slowStep, lane.eogR), "#4658b0", 1.1),
      mkLine("Ronquido", paired([[0, 0], [120, 0]], lane.snore), "#111", 1.2),
      mkLine("Ronquido +", paired(snoreEnvelope, lane.snore), "#111", 0.6),
      mkLine("Ronquido -", paired(snoreEnvelope.map(([t, a]) => [t, -a]), lane.snore), "#111", 0.6, {
        fill: "-1", backgroundColor: "#111",
      }),
      mkLine("EMGm", sampled(emgChin, slowStep, lane.emgm), "#cf2a1e", 1.9),
      mkLine("EMGp", sampled(emgLeg, slowStep, lane.emgp, 0.7), "#7b3522", 1.5),
      mkLine("ECG1", sampled(ecg, slowStep, lane.ecg, 0.8), "#43a845", 1),
      mkLine("P Nasal", paired(nasalFlow, lane.flow), "#35357a", 1.8),
      mkLine("Tórax", paired(thorax, lane.thorax), "#3b3b78", 2, { cubicInterpolationMode: "monotone" }),
      mkLine("Abdomen", paired(abdomen, lane.abdomen), "#3b3b78", 2, { cubicInterpolationMode: "monotone" }),
      mkLine("SpO2", paired(spo2Curve, lane.spo2), "#4a2a4a", 1.6, { cubicInterpolationMode: "monotone" }),
      mkLine("Co2mmHg", co2Points, "#222", 1.2, { stepped: "middle" }),
    ];
    const chart = new Chart(canvas, {
      type: "line",
      data: { datasets },
      options: {
        animation: false,
        responsive: false,
        devicePixelRatio: 1,
        events: [],
        layout: { padding: { left: PLOT_LEFT, right: 0, top: 0, bottom: 0 } },
        plugins: { legend: { display: false }, tooltip: { enabled: false }, title: { display: false } },
        scales: {
          x: {
            type: "linear",
            min: 0,
            max: 120,
            afterFit: (s: any) => {
              s.height = AXIS_HEIGHT;
            },
            ticks: {
              stepSize: 5,
              autoSkip: false,
              maxRotation: 0,
              padding: 2,
              color: "#333",
              font: { size: 8, family: FONT },
              callback: (v: any) => (v % 30 === 0 && v > 0 && v < 120 ? `${v}"` : ""),
            },
            grid: { drawOnChartArea: false, tickLength: 4, tickColor: "#777" },
            border: { color: "#333", width: 1 },
          },
          y: { type: "linear", display: false, min: 0, max: HEIGHT - AXIS_HEIGHT, reverse: true },
        },
      } as any,
      plugins: [psgPlugin],
    });
    return () => chart.destroy();
  }, []);
  return (
    <div style={{ position: "fixed", left: 0, top: 0, width: WIDTH, height: HEIGHT, background: "#fff" }}>
      <canvas ref={ref} width={WIDTH} height={HEIGHT} style={{ display: "block", width: WIDTH, height: HEIGHT }} />
    </div>
  );
}
